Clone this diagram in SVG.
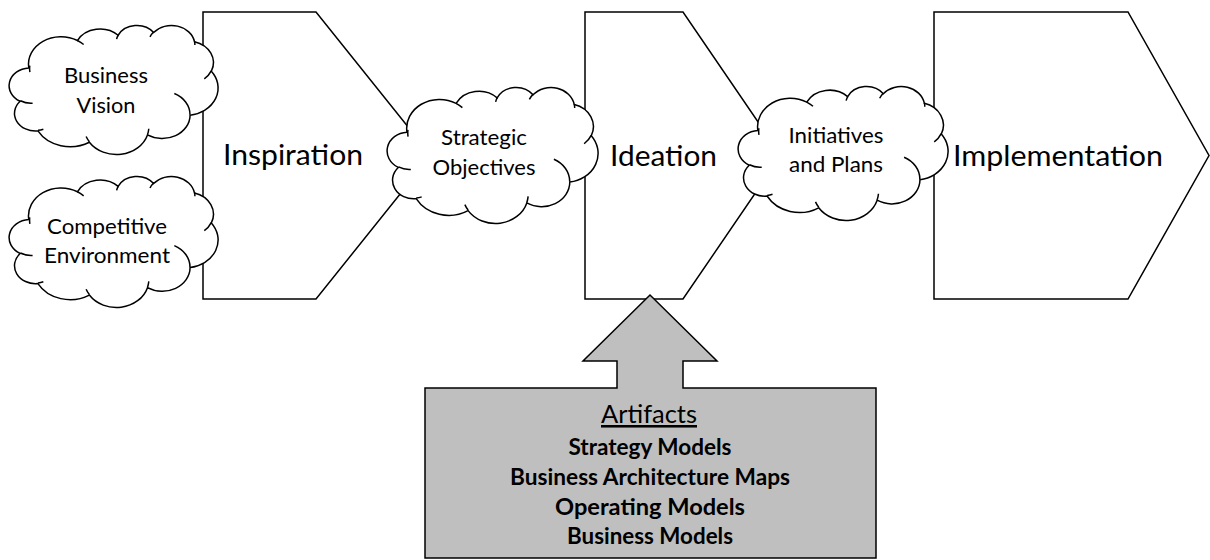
<svg xmlns="http://www.w3.org/2000/svg" xmlns:xlink="http://www.w3.org/1999/xlink" width="1210" height="560" viewBox="0 0 1210 560">
<style>
.shape{fill:#ffffff;stroke:#000000;stroke-width:1.5;stroke-linejoin:miter}
.cloud{fill:#ffffff;stroke:#000000;stroke-width:1.5}
.inner{fill:none;stroke:#000000;stroke-width:1.5}
.callout{fill:#bfbfbf;stroke:#000000;stroke-width:1.5}
.big{font-family:Lato,"Open Sans","Liberation Sans",sans-serif;font-size:29px;fill:#000000;text-anchor:middle}
.mid{font-family:Lato,"Open Sans","Liberation Sans",sans-serif;font-size:22px;fill:#000000;text-anchor:middle}
.art{font-family:Lato,"Open Sans","Liberation Sans",sans-serif;font-size:25.5px;fill:#000000;text-anchor:middle;text-decoration:underline}
.bold{font-family:Lato,"Open Sans","Liberation Sans",sans-serif;font-size:22px;font-weight:bold;fill:#000000;text-anchor:middle}
</style>
<defs>
<g id="cloudShape">
<path class="cloud" vector-effect="non-scaling-stroke" d="M 3900 14370 A 6753 9190 0 0 1 14005 5202 A 5333 7267 0 0 1 22457 3434 A 4365 5945 0 0 1 29834 2484 A 4857 6595 0 0 1 38318 5582 A 5333 7273 0 0 1 41819 15465 A 6775 9220 0 0 1 37404 30207 A 5785 7867 0 0 1 28556 36817 A 6752 9215 0 0 1 16479 39267 A 7720 10543 0 0 1 5802 35471 A 4360 5918 0 0 1 2113 25547 A 4345 5945 0 0 1 3900 14370 Z"/>
<path class="inner" vector-effect="non-scaling-stroke" d="M 4693 26177 A 4345 5945 0 0 1 2160 25380 M 6928 34899 A 4360 5918 0 0 1 5819 35281 M 16478 39090 A 6752 9215 0 0 1 15811 37350 M 28827 34751 A 6752 9215 0 0 1 28560 36660 M 34129 22954 A 5785 7867 0 0 1 37381 30090 M 41798 15354 A 5333 7273 0 0 1 40350 18030 M 38324 5426 A 4857 6595 0 0 1 38400 6689 M 29078 3952 A 4857 6595 0 0 1 29821 2339 M 22141 4720 A 4365 5945 0 0 1 22501 3329 M 14000 5192 A 6753 9190 0 0 1 15299 6539 M 4127 15789 A 6753 9190 0 0 1 4100 13625"/>
</g>
</defs>
<rect x="0" y="0" width="1210" height="560" fill="#ffffff"/>

<g id="inspiration">
<path class="shape" d="M 203 12 L 316 12 L 431 155.5 L 316 299 L 203 299 Z"/>
<text class="big" x="293" y="165" textLength="140" lengthAdjust="spacingAndGlyphs">Inspiration</text>
</g>
<g id="ideation">
<path class="shape" d="M 585 12 L 683 12 L 781 155.5 L 683 299 L 585 299 Z"/>
<text class="big" x="663.5" y="166" textLength="107" lengthAdjust="spacingAndGlyphs">Ideation</text>
</g>
<g id="implementation">
<path class="shape" d="M 934 12 L 1128 12 L 1209 155.5 L 1128 299 L 934 299 Z"/>
<text class="big" x="1058" y="166" textLength="210" lengthAdjust="spacingAndGlyphs">Implementation</text>
</g>

<g id="business-vision">
<use xlink:href="#cloudShape" href="#cloudShape" transform="translate(10 25) scale(0.0048148 0.0029861)"/>
<text class="mid" x="106" y="83" textLength="84" lengthAdjust="spacingAndGlyphs">Business</text>
<text class="mid" x="106" y="113" textLength="59" lengthAdjust="spacingAndGlyphs">Vision</text>
</g>
<g id="competitive-environment">
<use xlink:href="#cloudShape" href="#cloudShape" transform="translate(10 176) scale(0.0048148 0.0030324)"/>
<text class="mid" x="107" y="234" textLength="120" lengthAdjust="spacingAndGlyphs">Competitive</text>
<text class="mid" x="107" y="263" textLength="126" lengthAdjust="spacingAndGlyphs">Environment</text>
</g>
<g id="strategic-objectives">
<use xlink:href="#cloudShape" href="#cloudShape" transform="translate(388 87) scale(0.0048611 0.0031481)"/>
<text class="mid" x="484" y="145" textLength="86" lengthAdjust="spacingAndGlyphs">Strategic</text>
<text class="mid" x="484" y="175" textLength="103" lengthAdjust="spacingAndGlyphs">Objectives</text>
</g>
<g id="initiatives-and-plans">
<use xlink:href="#cloudShape" href="#cloudShape" transform="translate(739 86) scale(0.0048380 0.0031019)"/>
<text class="mid" x="836" y="143" textLength="95" lengthAdjust="spacingAndGlyphs">Initiatives</text>
<text class="mid" x="836" y="172" textLength="94" lengthAdjust="spacingAndGlyphs">and Plans</text>
</g>

<g id="artifacts">
<path class="callout" d="M 425 388 L 617 388 L 617 361 L 583 361 L 650 295 L 717 361 L 683 361 L 683 388 L 876 388 L 876 558 L 425 558 Z"/>
<text class="art" x="649" y="423" textLength="96" lengthAdjust="spacingAndGlyphs">Artifacts</text>
<text class="bold" x="650" y="455" textLength="163" lengthAdjust="spacingAndGlyphs">Strategy Models</text>
<text class="bold" x="650" y="485" textLength="280" lengthAdjust="spacingAndGlyphs">Business Architecture Maps</text>
<text class="bold" x="650" y="515" textLength="190" lengthAdjust="spacingAndGlyphs">Operating Models</text>
<text class="bold" x="650" y="544" textLength="166" lengthAdjust="spacingAndGlyphs">Business Models</text>
</g>

<g id="connectors"></g>
</svg>
